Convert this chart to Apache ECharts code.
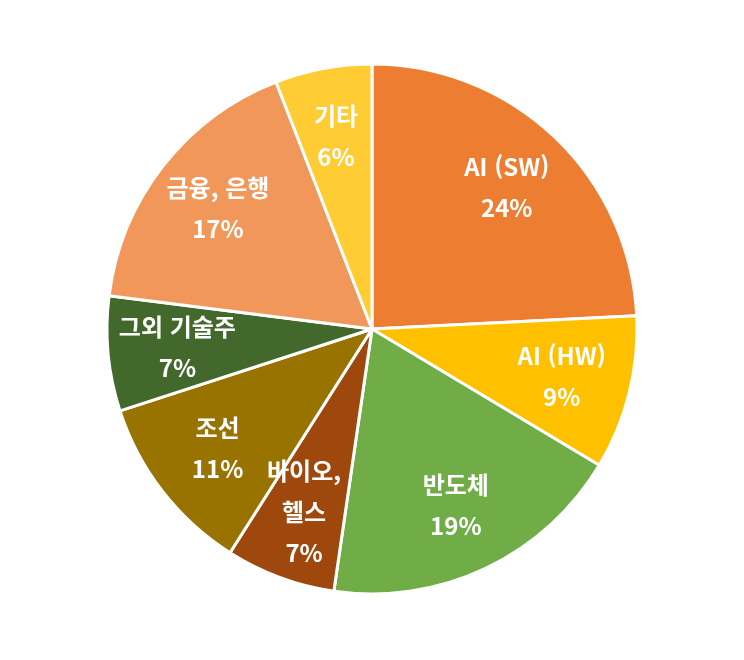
<!DOCTYPE html>
<html lang="ko">
<head>
    <meta charset="utf-8">
    <title>Portfolio pie</title>
    <script src="https://cdn.jsdelivr.net/npm/echarts@6/dist/echarts.min.js"></script>
    <style type="text/css">
        html, body { margin: 0; padding: 0; background: #fff; }
        #main { width: 744px; height: 660px; }
    </style>
</head>
<body>
    <div id="main"></div>
    <script type="text/javascript">
        // 섹터별 비중 (%), 12시 방향부터 시계방향
        var categories = ['AI (SW)', 'AI (HW)', '반도체', '바이오, 헬스', '조선', '그외 기술주', '금융, 은행', '기타'];
        var shares = [24.2, 9.4, 18.7, 6.7, 11.0, 7.0, 17.1, 5.9];
        var colors = ['#ED7D31', '#FFC000', '#70AD47', '#9E480E', '#997300', '#43682B', '#F1975A', '#FFCD33'];

        var pieData = categories.map(function (name, i) {
            return { name: name, value: shares[i], itemStyle: { color: colors[i] } };
        });

        var chartDom = document.getElementById('main');
        var myChart = echarts.init(chartDom);

        var option = {
            animation: false,
            series: [
                {
                    // visible slices
                    type: 'pie',
                    center: [372, 329],
                    radius: [0, 265],
                    startAngle: 90,
                    clockwise: true,
                    silent: true,
                    data: pieData,
                    itemStyle: { borderColor: '#ffffff', borderWidth: 3 },
                    label: { show: false },
                    labelLine: { show: false }
                },
                {
                    // transparent ring, only used to push labels out to ~0.73R
                    type: 'pie',
                    center: [372, 329],
                    radius: [120, 265],
                    startAngle: 90,
                    clockwise: true,
                    silent: true,
                    data: categories.map(function (name, i) {
                        return { name: name, value: shares[i] };
                    }),
                    itemStyle: { color: 'rgba(0,0,0,0)', borderWidth: 0 },
                    label: {
                        show: true,
                        position: 'inside',
                        color: '#ffffff',
                        fontFamily: '"Noto Sans CJK KR", "Noto Sans", sans-serif',
                        fontWeight: 'bold',
                        fontSize: 24,
                        lineHeight: 41,
                        formatter: function (p) {
                            var name = p.name === '바이오, 헬스' ? '바이오,\n헬스' : p.name;
                            return name + '\n' + Math.round(p.percent) + '%';
                        }
                    },
                    labelLine: { show: false }
                }
            ]
        };
        myChart.setOption(option);
    </script>
</body>
</html>
